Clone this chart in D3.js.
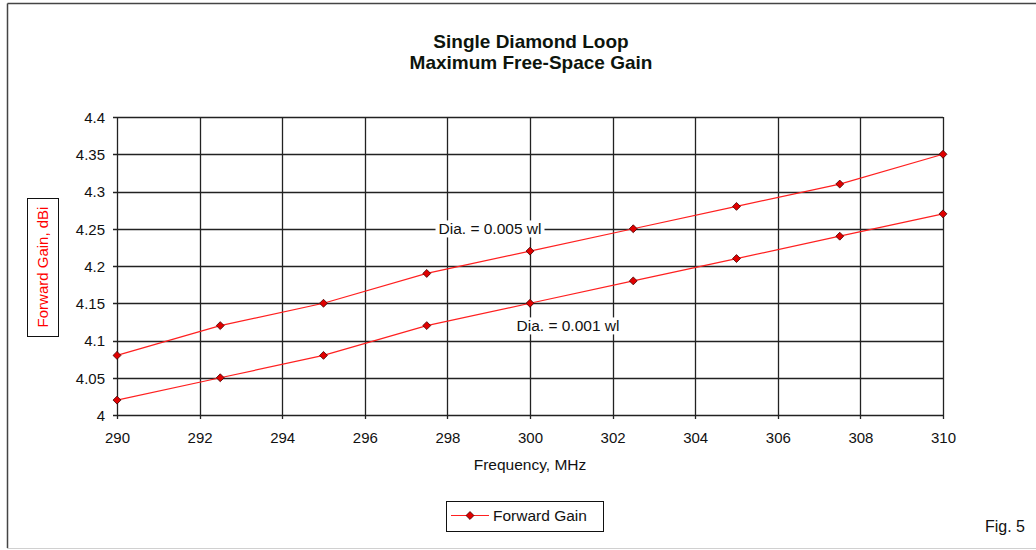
<!DOCTYPE html>
<html><head><meta charset="utf-8">
<script src="https://cdn.jsdelivr.net/npm/d3@7/dist/d3.min.js"></script>
<style>body{margin:0;background:#fff}svg{display:block}text{font-family:"Liberation Sans",Arial,sans-serif}</style>
</head><body>
<script>
const freqs = [290, 292.5, 295, 297.5, 300, 302.5, 305, 307.5, 310];
const gain005 = [4.08, 4.12, 4.15, 4.19, 4.22, 4.25, 4.28, 4.31, 4.35];
const gain001 = [4.02, 4.05, 4.08, 4.12, 4.15, 4.18, 4.21, 4.24, 4.27];
const xTicks = [290, 292, 294, 296, 298, 300, 302, 304, 306, 308, 310];
const yTicks = [4, 4.05, 4.1, 4.15, 4.2, 4.25, 4.3, 4.35, 4.4];
const titleLines = ["Single Diamond Loop", "Maximum Free-Space Gain"];
const seriesLabels = ["Dia. = 0.005 wl", "Dia. = 0.001 wl"];
const legendLabel = "Forward Gain";

const W = 1036, H = 550;
const svg = d3.select("body").append("svg").attr("width", W).attr("height", H);

// outer frame
svg.append("line").attr("x1",7.5).attr("y1",3.5).attr("x2",W).attr("y2",3.5).attr("stroke","#444").attr("stroke-width",1.5);
svg.append("line").attr("x1",7.5).attr("y1",3.5).attr("x2",7.5).attr("y2",548).attr("stroke","#444").attr("stroke-width",1.5);
svg.append("line").attr("x1",7).attr("y1",548.5).attr("x2",W).attr("y2",548.5).attr("stroke","#d0d0d0").attr("stroke-width",1);

const x = d3.scaleLinear().domain([290, 310]).range([117, 943]);
const y = d3.scaleLinear().domain([4, 4.4]).range([415, 117]);

// grid
const g = svg.append("g");
g.selectAll(".hg").data(yTicks).enter().append("line")
  .attr("x1", x(290) - 4).attr("x2", x(310))
  .attr("y1", d => Math.round(y(d)) + 0.5).attr("y2", d => Math.round(y(d)) + 0.5)
  .attr("stroke", "#222").attr("stroke-width", 1.3);
g.selectAll(".vg").data(xTicks).enter().append("line")
  .attr("x1", d => Math.round(x(d)) + 0.5).attr("x2", d => Math.round(x(d)) + 0.5)
  .attr("y1", y(4.4)).attr("y2", y(4) + 4)
  .attr("stroke", "#222").attr("stroke-width", 1.3);

const FONT = '"Liberation Sans",Arial,sans-serif';
const yAxis = svg.append("g").attr("transform", `translate(${x(290)},0)`)
  .call(d3.axisLeft(y).tickValues(yTicks).tickSize(0).tickPadding(12).tickFormat(d => String(+d.toFixed(2))));
const xAxis = svg.append("g").attr("transform", `translate(0,${y(4)})`)
  .call(d3.axisBottom(x).tickValues(xTicks).tickSize(0).tickPadding(17).tickFormat(d3.format("d")));
[yAxis, xAxis].forEach(a => {
  a.select(".domain").remove();
  a.selectAll("text").attr("font-size", 15).attr("fill", "#111").attr("font-family", FONT);
});
yAxis.selectAll("text").attr("dy", "0.35em");

// title
svg.append("text").attr("x", 531).attr("y", 48).attr("text-anchor", "middle")
  .attr("font-size", 19).attr("font-weight", "bold").attr("fill", "#0d150d").text(titleLines[0]);
svg.append("text").attr("x", 531).attr("y", 69).attr("text-anchor", "middle")
  .attr("font-size", 19).attr("font-weight", "bold").attr("fill", "#0d150d").text(titleLines[1]);

// x label
svg.append("text").attr("x", 530).attr("y", 470).attr("text-anchor", "middle")
  .attr("font-size", 15.5).attr("fill", "#111").text("Frequency, MHz");

// y label box
svg.append("rect").attr("x", 27.5).attr("y", 198.5).attr("width", 31).attr("height", 138)
  .attr("fill", "#fff").attr("stroke", "#111").attr("stroke-width", 1);
svg.append("text").attr("transform", "translate(48,267) rotate(-90)").attr("text-anchor", "middle")
  .attr("font-size", 15).attr("fill", "#ff0000").text("Forward Gain,  dBi");

// lines
const line = d3.line().x((d, i) => x(freqs[i])).y(d => y(d));
const sym = d3.symbol().type(d3.symbolDiamond2).size(40);
[gain005, gain001].forEach(s => {
  svg.append("path").attr("d", line(s)).attr("fill", "none").attr("stroke", "#ff2020").attr("stroke-width", 1.2);
  svg.selectAll(null).data(s).enter().append("path")
    .attr("transform", (d, i) => `translate(${x(freqs[i])},${y(d)})`)
    .attr("d", sym).attr("fill", "#e00000").attr("stroke", "#400").attr("stroke-width", 0.8);
});

// annotations
function annot(txt, cx, cy) {
  const t = svg.append("text").attr("x", cx).attr("y", cy).attr("text-anchor", "middle").attr("dy", "0.35em")
    .attr("font-size", 15.5).attr("fill", "#111").text(txt);
  const bb = t.node().getBBox();
  svg.insert("rect", () => t.node()).attr("x", bb.x - 3).attr("y", bb.y).attr("width", bb.width + 6).attr("height", bb.height).attr("fill", "#fff");
}
annot(seriesLabels[0], 490, 229);
annot(seriesLabels[1], 568, 326);

// legend
svg.append("rect").attr("x", 446.5).attr("y", 501.5).attr("width", 157).attr("height", 30)
  .attr("fill", "#fff").attr("stroke", "#111").attr("stroke-width", 1);
svg.append("line").attr("x1", 451).attr("x2", 489).attr("y1", 515.5).attr("y2", 515.5).attr("stroke", "#ff2020").attr("stroke-width", 1.2);
svg.append("path").attr("transform", "translate(470,515.5)").attr("d", sym).attr("fill", "#e00000").attr("stroke", "#400").attr("stroke-width", 0.8);
svg.append("text").attr("x", 493).attr("y", 521).attr("font-size", 15.5).attr("fill", "#111").text(legendLabel);

// fig label
svg.append("text").attr("x", 985).attr("y", 532).attr("font-size", 16).attr("fill", "#111").text("Fig. 5");
</script>
</body></html>
